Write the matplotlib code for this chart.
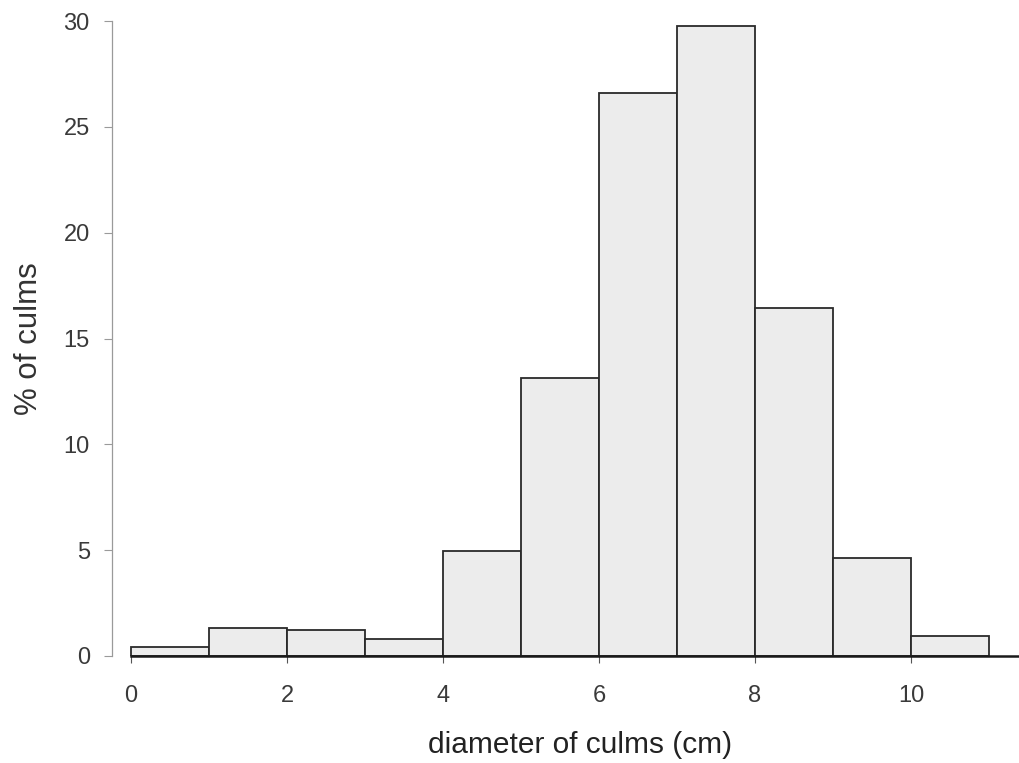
import matplotlib.pyplot as plt
import numpy as np

plt.rcParams['font.family'] = ['Liberation Sans', 'DejaVu Sans']

# bin edges (cm) and percentage of culms per bin
bin_left = np.arange(0, 11)
pct_culms = [0.43, 1.3, 1.23, 0.8, 4.95, 13.15, 26.6, 29.75, 16.45, 4.63, 0.95]
xticks = [0, 2, 4, 6, 8, 10]
yticks = [0, 5, 10, 15, 20, 25, 30]

fig = plt.figure(figsize=(10.2, 7.63), dpi=100)
ax = fig.add_axes([112 / 1020, 1 - 656 / 763, (1020 - 112) / 1020, (656 - 21) / 763])

ax.bar(bin_left, pct_culms, width=1, align='edge', color='#ececec',
       edgecolor='#2a2a2a', linewidth=1.3, zorder=2)

x0 = -19 / 78
ax.set_xlim(x0, x0 + (1020 - 112) / 78)
ax.set_ylim(0, 30)

# baseline along zero
ax.plot([0, ax.get_xlim()[1]], [0, 0], color='#1a1a1a', linewidth=1.8,
        clip_on=False, zorder=3)

for s in ['top', 'right', 'bottom']:
    ax.spines[s].set_visible(False)
ax.spines['left'].set_color('#9a9a9a')
ax.spines['left'].set_linewidth(0.9)

ax.set_xticks(xticks)
ax.set_yticks(yticks)
ax.tick_params(axis='x', length=5, width=0.8, color='#555555', pad=16,
               labelsize=17, labelcolor='#3a3a3a')
ax.tick_params(axis='y', length=6, width=0.8, color='#9a9a9a', pad=10,
               labelsize=17, labelcolor='#3a3a3a')

ax.set_xlabel('diameter of culms (cm)', fontsize=21.5, color='#222222', labelpad=14)
ax.xaxis.set_label_coords(0.515, -0.118)
ax.set_ylabel('% of culms', fontsize=22.5, color='#333333', labelpad=14)

fig.savefig('out.png', dpi=100)
